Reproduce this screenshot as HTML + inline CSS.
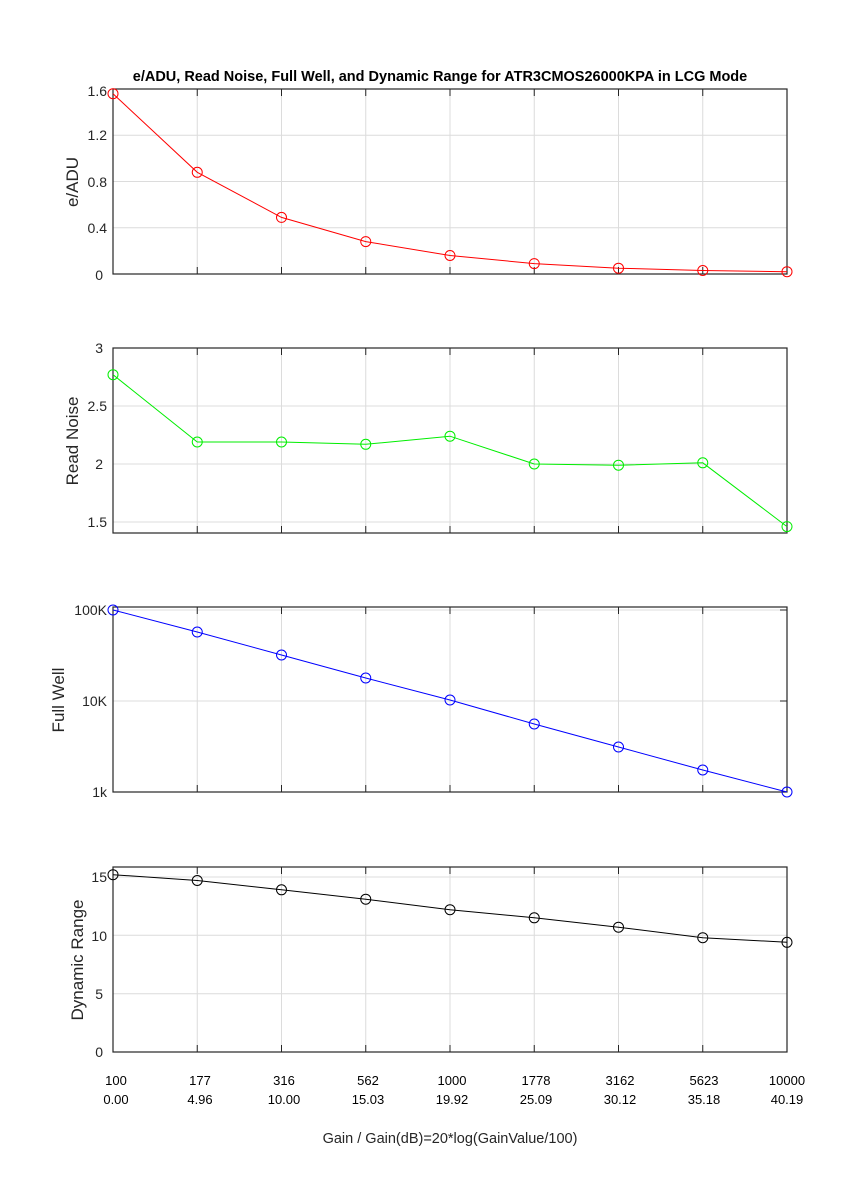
<!DOCTYPE html>
<html><head><meta charset="utf-8"><style>
html,body{margin:0;padding:0;background:#fff;}
svg{display:block;font-family:"Liberation Sans",Arial,sans-serif;}
</style></head><body>
<svg width="867" height="1181" viewBox="0 0 867 1181" xmlns="http://www.w3.org/2000/svg">
<rect width="867" height="1181" fill="#fff"/>
<g stroke="#dcdcdc" stroke-width="1">
<g id="vg">
<line x1="197.25" y1="89" x2="197.25" y2="274"/><line x1="281.5" y1="89" x2="281.5" y2="274"/><line x1="365.75" y1="89" x2="365.75" y2="274"/><line x1="450" y1="89" x2="450" y2="274"/><line x1="534.25" y1="89" x2="534.25" y2="274"/><line x1="618.5" y1="89" x2="618.5" y2="274"/><line x1="702.75" y1="89" x2="702.75" y2="274"/>
</g>
<use href="#vg" y="259"/><use href="#vg" y="518"/><use href="#vg" y="778"/>
<line x1="113" y1="227.8" x2="787" y2="227.8"/><line x1="113" y1="181.5" x2="787" y2="181.5"/><line x1="113" y1="135.3" x2="787" y2="135.3"/>
<line x1="113" y1="406" x2="787" y2="406"/><line x1="113" y1="464" x2="787" y2="464"/><line x1="113" y1="522" x2="787" y2="522"/>
<line x1="113" y1="701" x2="787" y2="701"/><line x1="113" y1="610" x2="787" y2="610"/>
<line x1="113" y1="993.7" x2="787" y2="993.7"/><line x1="113" y1="935.3" x2="787" y2="935.3"/><line x1="113" y1="877" x2="787" y2="877"/>
</g>
<g stroke="#262626" stroke-width="1">
<g id="tk">
<line x1="197.25" y1="274" x2="197.25" y2="267"/><line x1="281.5" y1="274" x2="281.5" y2="267"/><line x1="365.75" y1="274" x2="365.75" y2="267"/><line x1="450" y1="274" x2="450" y2="267"/><line x1="534.25" y1="274" x2="534.25" y2="267"/><line x1="618.5" y1="274" x2="618.5" y2="267"/><line x1="702.75" y1="274" x2="702.75" y2="267"/>
<line x1="197.25" y1="89" x2="197.25" y2="96"/><line x1="281.5" y1="89" x2="281.5" y2="96"/><line x1="365.75" y1="89" x2="365.75" y2="96"/><line x1="450" y1="89" x2="450" y2="96"/><line x1="534.25" y1="89" x2="534.25" y2="96"/><line x1="618.5" y1="89" x2="618.5" y2="96"/><line x1="702.75" y1="89" x2="702.75" y2="96"/>
</g>
<use href="#tk" y="259"/><use href="#tk" y="518"/><use href="#tk" y="778"/>
<line x1="780" y1="701" x2="787" y2="701"/><line x1="780" y1="610" x2="787" y2="610"/>
</g>
<g fill="none" stroke="#262626" stroke-width="1.2">
<rect x="113" y="89" width="674" height="185"/>
<rect x="113" y="348" width="674" height="185"/>
<rect x="113" y="607" width="674" height="185"/>
<rect x="113" y="867" width="674" height="185"/>
</g>
<g fill="none" stroke-width="1">
<polyline stroke="#ff0000" points="113,93.7 197.25,172.3 281.5,217.4 365.75,241.6 450,255.5 534.25,263.6 618.5,268.2 702.75,270.5 787,271.7"/>
<g stroke="#ff0000"><circle cx="113" cy="93.7" r="5"/><circle cx="197.25" cy="172.3" r="5"/><circle cx="281.5" cy="217.4" r="5"/><circle cx="365.75" cy="241.6" r="5"/><circle cx="450" cy="255.5" r="5"/><circle cx="534.25" cy="263.6" r="5"/><circle cx="618.5" cy="268.2" r="5"/><circle cx="702.75" cy="270.5" r="5"/><circle cx="787" cy="271.7" r="5"/></g>
<polyline stroke="#00ee00" points="113,374.7 197.25,442 281.5,442 365.75,444.3 450,436.2 534.25,464 618.5,465.2 702.75,462.8 787,526.6"/>
<g stroke="#00ee00"><circle cx="113" cy="374.7" r="5"/><circle cx="197.25" cy="442" r="5"/><circle cx="281.5" cy="442" r="5"/><circle cx="365.75" cy="444.3" r="5"/><circle cx="450" cy="436.2" r="5"/><circle cx="534.25" cy="464" r="5"/><circle cx="618.5" cy="465.2" r="5"/><circle cx="702.75" cy="462.8" r="5"/><circle cx="787" cy="526.6" r="5"/></g>
<polyline stroke="#0000ff" points="113,610 197.25,632 281.5,655 365.75,678 450,700 534.25,724 618.5,747 702.75,770 787,792"/>
<g stroke="#0000ff"><circle cx="113" cy="610" r="5"/><circle cx="197.25" cy="632" r="5"/><circle cx="281.5" cy="655" r="5"/><circle cx="365.75" cy="678" r="5"/><circle cx="450" cy="700" r="5"/><circle cx="534.25" cy="724" r="5"/><circle cx="618.5" cy="747" r="5"/><circle cx="702.75" cy="770" r="5"/><circle cx="787" cy="792" r="5"/></g>
<polyline stroke="#000" points="113,874.7 197.25,880.5 281.5,889.8 365.75,899.2 450,909.7 534.25,917.8 618.5,927.2 702.75,937.7 787,942.3"/>
<g stroke="#000"><circle cx="113" cy="874.7" r="5"/><circle cx="197.25" cy="880.5" r="5"/><circle cx="281.5" cy="889.8" r="5"/><circle cx="365.75" cy="899.2" r="5"/><circle cx="450" cy="909.7" r="5"/><circle cx="534.25" cy="917.8" r="5"/><circle cx="618.5" cy="927.2" r="5"/><circle cx="702.75" cy="937.7" r="5"/><circle cx="787" cy="942.3" r="5"/></g>
</g>
<text x="440" y="81" text-anchor="middle" font-size="14.5" font-weight="bold" fill="#000">e/ADU, Read Noise, Full Well, and Dynamic Range for ATR3CMOS26000KPA in LCG Mode</text>
<g font-size="14" fill="#262626" text-anchor="end">
<text x="107" y="96">1.6</text><text x="107" y="140">1.2</text><text x="107" y="187">0.8</text><text x="107" y="233">0.4</text><text x="103" y="280">0</text>
<text x="103" y="353">3</text><text x="107" y="411">2.5</text><text x="103" y="469">2</text><text x="107" y="527">1.5</text>
<text x="107" y="615">100K</text><text x="107" y="706">10K</text><text x="107" y="797">1k</text>
<text x="107" y="882">15</text><text x="107" y="941">10</text><text x="103" y="999">5</text><text x="103" y="1057">0</text>
</g>
<g font-size="17" fill="#262626" text-anchor="middle">
<text transform="translate(78,182) rotate(-90)">e/ADU</text>
<text transform="translate(78,441) rotate(-90)">Read Noise</text>
<text transform="translate(64,700) rotate(-90)">Full Well</text>
<text transform="translate(83,960) rotate(-90)">Dynamic Range</text>
</g>
<g font-size="13" fill="#000" text-anchor="middle">
<text x="116" y="1085">100</text><text x="200" y="1085">177</text><text x="284" y="1085">316</text><text x="368" y="1085">562</text><text x="452" y="1085">1000</text><text x="536" y="1085">1778</text><text x="620" y="1085">3162</text><text x="704" y="1085">5623</text><text x="787" y="1085">10000</text>
<text x="116" y="1104">0.00</text><text x="200" y="1104">4.96</text><text x="284" y="1104">10.00</text><text x="368" y="1104">15.03</text><text x="452" y="1104">19.92</text><text x="536" y="1104">25.09</text><text x="620" y="1104">30.12</text><text x="704" y="1104">35.18</text><text x="787" y="1104">40.19</text>
</g>
<text x="450" y="1143" text-anchor="middle" font-size="14.5" fill="#262626">Gain / Gain(dB)=20*log(GainValue/100)</text>
</svg>
</body></html>
